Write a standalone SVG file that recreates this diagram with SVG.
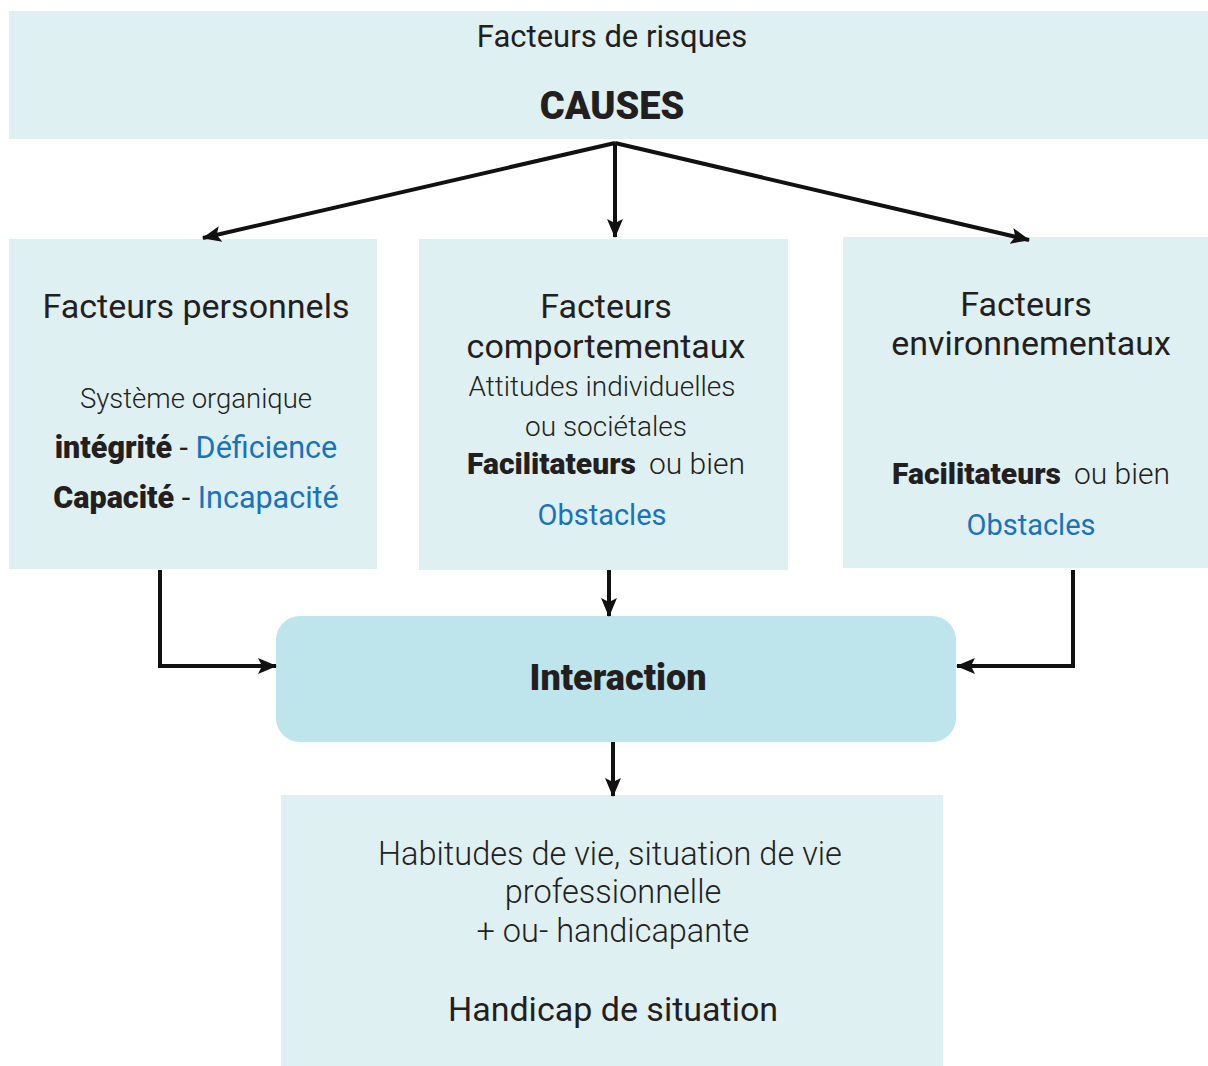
<svg xmlns="http://www.w3.org/2000/svg" width="1208" height="1066" viewBox="0 0 1208 1066">
<style>
.box{fill:#dff0f2}
.t{font-family:Roboto,"Liberation Sans",sans-serif;fill:#231f20;text-anchor:middle}
.l{font-weight:300}
.b{font-weight:900}
.m{font-weight:500}
.blue{fill:#1a72bb}
.c{stroke:#111;stroke-width:4;fill:none}
</style>
<defs>
<marker id="ah" markerUnits="userSpaceOnUse" markerWidth="20" markerHeight="20" viewBox="0 0 20 20" refX="18" refY="10" orient="auto">
<path d="M0,2 L19,10 L0,18 L4,10 Z" fill="#111"/>
</marker>
</defs>
<rect width="1208" height="1066" fill="#fff"/>
<g id="causes">
<rect class="box" x="9" y="11" width="1199" height="128"/>
<text class="t" x="612" y="47" font-size="31">Facteurs de risques</text>
<text class="t b" x="612" y="119" font-size="38">CAUSES</text>
</g>
<g id="personnels">
<rect class="box" x="9" y="239" width="368" height="330"/>
<text class="t" x="196" y="318" font-size="34">Facteurs personnels</text>
<text class="t l" x="196" y="408" font-size="27.5">Système organique</text>
<text class="t" x="196" y="458" font-size="30.5"><tspan class="b">intégrité</tspan> - <tspan class="blue">Déficience</tspan></text>
<text class="t" x="196" y="508" font-size="30.5"><tspan class="b">Capacité</tspan> - <tspan class="blue">Incapacité</tspan></text>
</g>
<g id="comportementaux">
<rect class="box" x="419" y="239" width="369" height="331"/>
<text class="t" x="606" y="318" font-size="34">Facteurs</text>
<text class="t" x="606" y="358" font-size="34">comportementaux</text>
<text class="t l" x="602" y="396" font-size="28">Attitudes individuelles</text>
<text class="t l" x="606" y="436" font-size="28">ou sociétales</text>
<text class="t" x="606" y="474" font-size="30"><tspan class="b">Facilitateurs</tspan><tspan class="l" dx="13">ou bien</tspan></text>
<text class="t blue" x="602" y="525" font-size="29">Obstacles</text>
</g>
<g id="environnementaux">
<rect class="box" x="843" y="237" width="365" height="331"/>
<text class="t" x="1026" y="316" font-size="34">Facteurs</text>
<text class="t" x="1031" y="355" font-size="34">environnementaux</text>
<text class="t" x="1031" y="484" font-size="30"><tspan class="b">Facilitateurs</tspan><tspan class="l" dx="13">ou bien</tspan></text>
<text class="t blue" x="1031" y="535" font-size="29">Obstacles</text>
</g>
<g id="interaction">
<rect x="276" y="616" width="680" height="126" rx="24" fill="#bde5eb"/>
<text class="t b" x="618" y="690" font-size="36">Interaction</text>
</g>
<g id="situation">
<rect class="box" x="281" y="795" width="662" height="271"/>
<text class="t l" x="610" y="865" font-size="32.5">Habitudes de vie, situation de vie</text>
<text class="t l" x="613" y="903" font-size="32.5">professionnelle</text>
<text class="t l" x="613" y="942" font-size="32.5">+ ou- handicapante</text>
<text class="t" x="613" y="1021" font-size="34">Handicap de situation</text>
</g>
<g id="connectors">
<line class="c" x1="615" y1="143" x2="203" y2="238" marker-end="url(#ah)"/>
<line class="c" x1="615" y1="143" x2="615" y2="237" marker-end="url(#ah)"/>
<line class="c" x1="615" y1="143" x2="1029" y2="240" marker-end="url(#ah)"/>
<polyline class="c" points="160,570 160,666 276,666" marker-end="url(#ah)"/>
<line class="c" x1="609" y1="570" x2="609" y2="616" marker-end="url(#ah)"/>
<polyline class="c" points="1073,570 1073,666 957,666" marker-end="url(#ah)"/>
<line class="c" x1="613" y1="742" x2="613" y2="796" marker-end="url(#ah)"/>
</g>
</svg>
